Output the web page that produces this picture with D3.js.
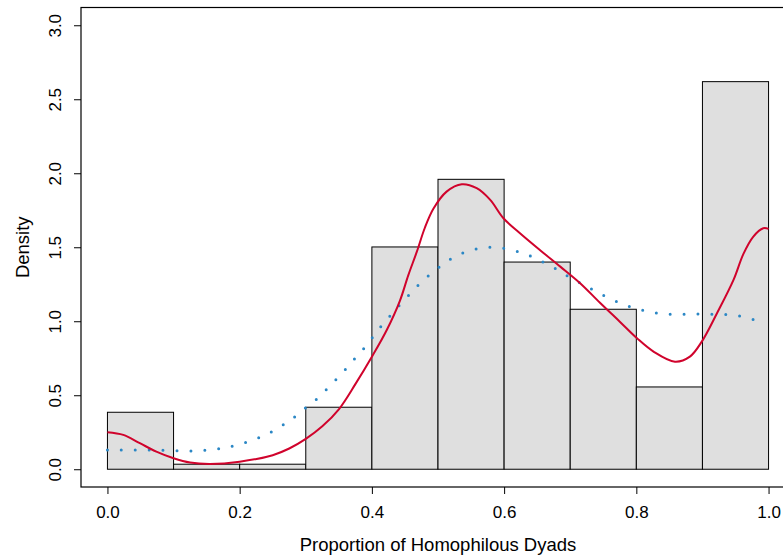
<!DOCTYPE html>
<html>
<head>
<meta charset="utf-8">
<script src="https://cdn.jsdelivr.net/npm/d3@7"></script>
<style>
  body { margin: 0; background: #fff; }
  svg { display: block; font-family: "Liberation Sans", Arial, sans-serif; }
</style>
</head>
<body>
<svg id="hist" width="783" height="559"></svg>
<script>
// histogram bins (left edges) and their densities
const binStarts = [0.0, 0.1, 0.2, 0.3, 0.4, 0.5, 0.6, 0.7, 0.8, 0.9];
const binWidth = 0.1;
const densities = [0.385, 0.034, 0.034, 0.419, 1.502, 1.959, 1.40, 1.081, 0.556, 2.619];

// red density curve
const redX = [0.00, 0.024, 0.049, 0.074, 0.10, 0.125, 0.155, 0.20, 0.25, 0.275, 0.30, 0.325, 0.35,
  0.375, 0.40, 0.4225, 0.4425, 0.455, 0.468, 0.48, 0.493, 0.513, 0.536, 0.5585, 0.579, 0.599,
  0.624, 0.654, 0.685, 0.715, 0.745, 0.775, 0.801, 0.826, 0.8585, 0.881, 0.899, 0.922, 0.947,
  0.962, 0.977, 0.992, 1.0];
const redY = [0.25, 0.232, 0.176, 0.119, 0.074, 0.045, 0.036, 0.051, 0.095, 0.14, 0.205, 0.29, 0.405,
  0.575, 0.76, 0.941, 1.14, 1.31, 1.47, 1.63, 1.76, 1.876, 1.926, 1.899, 1.82, 1.696,
  1.595, 1.482, 1.369, 1.257, 1.125, 0.997, 0.885, 0.795, 0.727, 0.761, 0.862, 1.054, 1.279,
  1.455, 1.572, 1.628, 1.624];

// blue dotted curve
const blueX = [0.0, 0.064, 0.13, 0.17, 0.19, 0.211, 0.231, 0.25, 0.268, 0.285, 0.301, 0.318, 0.3326,
  0.3477, 0.362, 0.376, 0.39, 0.403, 0.416, 0.43, 0.444, 0.4587, 0.473, 0.489, 0.5056, 0.523,
  0.542, 0.563, 0.584, 0.605, 0.6256, 0.645, 0.6645, 0.683, 0.70, 0.72, 0.738, 0.757, 0.777,
  0.7965, 0.817, 0.838, 0.859, 0.88, 0.901, 0.9225, 0.9437, 0.965, 0.985];
const blueY = [0.130, 0.130, 0.124, 0.139, 0.157, 0.184, 0.216, 0.257, 0.306, 0.36, 0.419, 0.48, 0.545,
  0.615, 0.684, 0.757, 0.828, 0.903, 0.977, 1.049, 1.119, 1.189, 1.257, 1.32, 1.378, 1.43,
  1.468, 1.493, 1.5, 1.489, 1.464, 1.43, 1.387, 1.342, 1.295, 1.247, 1.203, 1.16, 1.12,
  1.09, 1.068, 1.051, 1.047, 1.047, 1.049, 1.047, 1.043, 1.027, 1.0];

const xTicks = [0, 0.2, 0.4, 0.6, 0.8, 1.0];
const yTicks = [0, 0.5, 1.0, 1.5, 2.0, 2.5, 3.0];

const svg = d3.select("#hist");

// R style: 4% padding around the data range
const x = d3.scaleLinear().domain([-0.04, 1.04]).range([81, 795]);
const y = d3.scaleLinear().domain([-0.12, 3.12]).range([487, 7.5]);

// bars
svg.append("g")
  .selectAll("rect")
  .data(binStarts)
  .join("rect")
  .attr("x", (d) => x(d))
  .attr("y", (d, i) => y(densities[i]))
  .attr("width", (d) => x(d + binWidth) - x(d))
  .attr("height", (d, i) => y(0) - y(densities[i]))
  .attr("fill", "#dfdfdf")
  .attr("stroke", "#000")
  .attr("stroke-width", 1);

// blue dotted line
const blueLine = d3.line()
  .x((d, i) => x(blueX[i]))
  .y((d, i) => y(blueY[i]))
  .curve(d3.curveCatmullRom.alpha(0.5));

svg.append("path")
  .datum(blueY)
  .attr("fill", "none")
  .attr("stroke", "#2b87c5")
  .attr("stroke-width", 3)
  .attr("stroke-linecap", "round")
  .attr("stroke-dasharray", "0 13.9")
  .attr("d", blueLine);

// red line
const redLine = d3.line()
  .x((d, i) => x(redX[i]))
  .y((d, i) => y(redY[i]))
  .curve(d3.curveCatmullRom.alpha(0.5));

svg.append("path")
  .datum(redY)
  .attr("fill", "none")
  .attr("stroke", "#d0032c")
  .attr("stroke-width", 2)
  .attr("d", redLine);

// frame
svg.append("rect")
  .attr("x", x(-0.04))
  .attr("y", y(3.12))
  .attr("width", x(1.04) - x(-0.04))
  .attr("height", y(-0.12) - y(3.12))
  .attr("fill", "none")
  .attr("stroke", "#000")
  .attr("stroke-width", 1.2);

// x axis
const xAxis = svg.append("g")
  .attr("transform", `translate(0,${y(-0.12)})`)
  .call(d3.axisBottom(x).tickValues(xTicks).tickFormat(d3.format(".1f"))
    .tickSize(7).tickSizeOuter(0).tickPadding(12));
xAxis.select(".domain").remove();
xAxis.selectAll("text").attr("font-size", 17).attr("fill", "#000")
  .attr("font-family", "Liberation Sans, Arial, sans-serif");

// y axis, labels turned like R's default las = 0
const yAxis = svg.append("g")
  .attr("transform", `translate(${x(-0.04)},0)`)
  .call(d3.axisLeft(y).tickValues(yTicks).tickFormat(d3.format(".1f"))
    .tickSize(7).tickSizeOuter(0));
yAxis.select(".domain").remove();
yAxis.selectAll("text")
  .attr("x", null).attr("dy", null)
  .attr("text-anchor", "middle")
  .attr("transform", "translate(-20,0) rotate(-90)")
  .attr("font-size", 17).attr("fill", "#000")
  .attr("font-family", "Liberation Sans, Arial, sans-serif");

// axis titles
svg.append("text")
  .attr("x", (x(-0.04) + x(1.04)) / 2)
  .attr("y", 551)
  .attr("text-anchor", "middle")
  .attr("font-size", 18.5)
  .text("Proportion of Homophilous Dyads");

svg.append("text")
  .attr("transform", `translate(28.5,${(y(3.12) + y(-0.12)) / 2}) rotate(-90)`)
  .attr("text-anchor", "middle")
  .attr("font-size", 18.5)
  .text("Density");
</script>
</body>
</html>
